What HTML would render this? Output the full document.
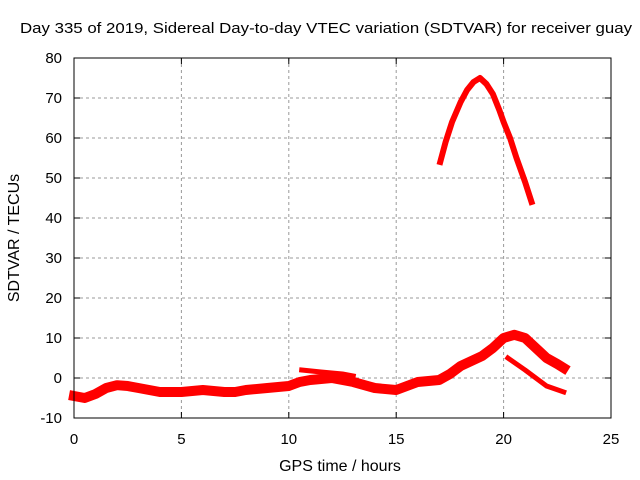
<!DOCTYPE html>
<html><head><meta charset="utf-8"><style>
body{margin:0;background:#fff}
svg{display:block;font-family:"Liberation Sans",sans-serif}
</style></head><body>
<svg id="chart" width="640" height="480" viewBox="0 0 640 480">
<text x="20" y="33" font-size="15" textLength="612" lengthAdjust="spacingAndGlyphs">Day 335 of 2019, Sidereal Day-to-day VTEC variation (SDTVAR) for receiver guay</text>
<g id="grid"></g>
<g id="series"></g>
<rect x="74" y="58" width="537" height="360" fill="none" stroke="#000" stroke-width="1"/>
<g id="ticks"></g>
<text x="340" y="471" font-size="16" text-anchor="middle">GPS time / hours</text>
<text transform="translate(19,238) rotate(-90)" font-size="16" text-anchor="middle">SDTVAR / TECUs</text>
</svg>
<script>
const xTicks=[0,5,10,15,20,25];
const yTicks=[-10,0,10,20,30,40,50,60,70,80];
const mainHours=[0,0.5,1,1.5,2,2.5,3,3.5,4,5,6,7,7.5,8,9,10,10.5,11,12,13,14,15,15.5,16,17,17.5,18,19,19.5,20,20.5,21,21.5,22,22.5,22.8];
const mainVals=[-4.5,-5,-4,-2.5,-1.8,-2,-2.5,-3,-3.5,-3.5,-3,-3.5,-3.5,-3,-2.5,-2,-1,-0.5,0,-1,-2.5,-3,-2,-1,-0.5,1,3,5.5,7.5,10,10.8,10,7.5,5,3.5,2.5];
const lowHours=[20.2,21,22,22.8];
const lowVals=[5,2,-2,-3.5];
const midHours=[10.6,11.5,12.5,13];
const midVals=[2,1.5,1,0.5];
const arcHours=[17.05,17.3,17.6,18,18.3,18.6,18.9,19.2,19.5,19.8,20,20.3,20.6,21,21.3];
const arcVals=[54,59,64,69,72,74,75,73.5,71,67,64,60,55,49,44];
const X=h=>74+h*537/25, Y=v=>418-(v+10)*4;
const NS="http://www.w3.org/2000/svg";
const grid=document.getElementById('grid'),ticks=document.getElementById('ticks'),ser=document.getElementById('series');
function el(t,a,p){const e=document.createElementNS(NS,t);for(const k in a)e.setAttribute(k,a[k]);p.appendChild(e);return e;}
xTicks.forEach(t=>{
 if(t>0&&t<25){const g=el('line',{x1:X(t),x2:X(t),y1:58,y2:418,stroke:'#999','stroke-dasharray':'3,3'},grid);
 
 }
 const m=el('line',{x1:X(t),x2:X(t),y1:418,y2:412,stroke:'#000'},ticks);
 
 
 const m2=el('line',{x1:X(t),x2:X(t),y1:58,y2:64,stroke:'#000'},ticks);
 
 
 const l=el('text',{x:X(t),y:444,'font-size':15,'text-anchor':'middle'},ticks);l.textContent=t;
 
 
});
yTicks.forEach(t=>{
 if(t>-10&&t<80){const g=el('line',{x1:74,x2:611,y1:Y(t),y2:Y(t),stroke:'#999','stroke-dasharray':'3,3'},grid);
 
 }
 const m=el('line',{x1:74,x2:80,y1:Y(t),y2:Y(t),stroke:'#000'},ticks);
 
 
 const m2=el('line',{x1:605,x2:611,y1:Y(t),y2:Y(t),stroke:'#000'},ticks);
 
 
 const l=el('text',{x:62,y:Y(t)+5,'font-size':15,'text-anchor':'end'},ticks);l.textContent=t;
 
 
});
function line(hs,vs,w,name){
 const p=el('polyline',{points:hs.map((h,i)=>X(h)+','+Y(vs[i])).join(' '),fill:'none',stroke:'#f00','stroke-width':w,'stroke-linejoin':'round','stroke-linecap':'square'},ser);
 
 
}
line(mainHours,mainVals,10,'sdtvar-main-band');
line(lowHours,lowVals,5,'sdtvar-lower-branch');
line(midHours,midVals,5,'sdtvar-mid-branch');
line(arcHours,arcVals,6,'sdtvar-high-arc');
</script>
</body></html>
